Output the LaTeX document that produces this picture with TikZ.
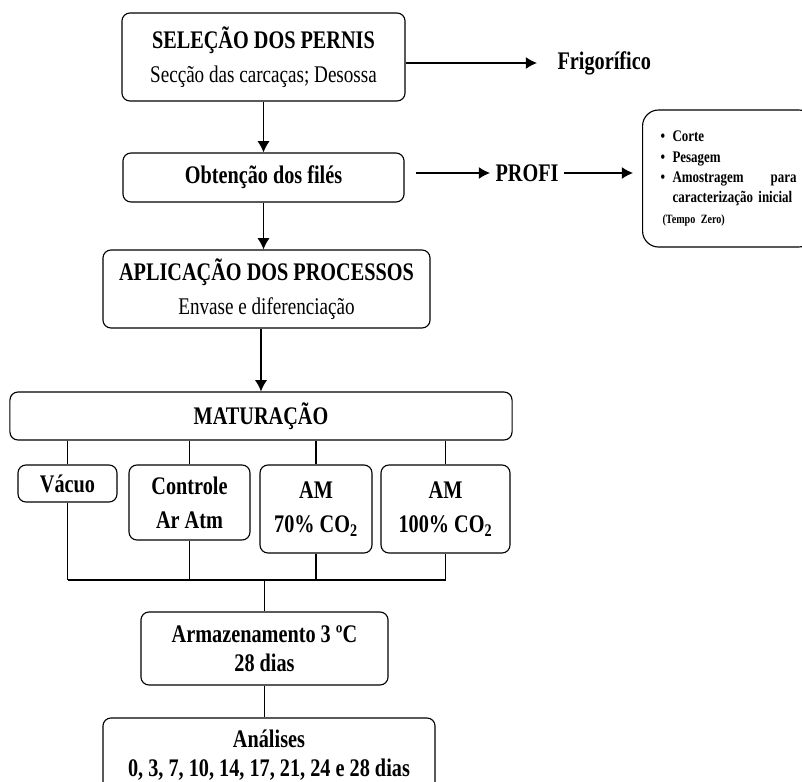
\documentclass[tikz,border=0pt]{standalone}
\usepackage{fontspec}
\setmainfont{Liberation Serif}[FakeStretch=0.8]
\usetikzlibrary{arrows.meta,positioning}
\newcommand{\subText}{\fontsize{17}{24}\selectfont\mdseries}
\tikzset{%
  >={Latex[width=3mm,length=2.8mm]},
  % Specifications for style of nodes:
       base/.style = {rectangle, rounded corners=0.2cm, draw=black,
                      line width=0.8pt, inner sep=0pt, text centered,
                      align=center},
   mainStep/.style = {base, font=\fontsize{18}{24}\selectfont\bfseries},
   lastStep/.style = {base, font=\fontsize{18}{21}\selectfont\bfseries},
   noteBox/.style  = {base, rounded corners=0.4cm, align=left,
                      inner xsep=0.45cm, text width=3.4cm,
                      font=\fontsize{11.5}{14.5}\selectfont\bfseries},
  freeLabel/.style = {inner sep=0pt, font=\fontsize{18}{24}\selectfont\bfseries},
}

\begin{document}
\begin{tikzpicture}[x=0.025cm, y=-0.025cm, line width=0.8pt]
\clip (0,0) rectangle (802,782);

\node (SP)    [mainStep, minimum width=7.075cm, minimum height=2.2cm]
              at (263.5,57) {SELEÇÃO DOS PERNIS\\ {\subText Secção das carcaças; Desossa}};

\node (OF)    [mainStep, minimum width=7.025cm, minimum height=1.225cm]
              at (263.5,177.5) {Obtenção dos filés};

\node (AP)    [mainStep, minimum width=8.175cm, minimum height=1.95cm]
              at (266.5,289) {APLICAÇÃO DOS PROCESSOS\\ {\subText Envase e diferenciação}};

\node (MAT)   [mainStep, minimum width=12.55cm, minimum height=1.2cm]
              at (261,416) {MATURAÇÃO};

\node (VAC)   [mainStep, minimum width=2.475cm, minimum height=0.925cm]
              at (67.5,483.5) {Vácuo};

\node (CAA)   [mainStep, minimum width=3.025cm, minimum height=1.875cm]
              at (189.5,502.5) {Controle\\ Ar Atm};

\node (AM70)  [mainStep, minimum width=2.8cm, minimum height=2.2cm]
              at (316,509) {AM\\ 70\% CO\textsubscript{2}};

\node (AM100) [mainStep, minimum width=3.225cm, minimum height=2.2cm]
              at (445.5,509) {AM\\ 100\% CO\textsubscript{2}};

\node (ARM)   [lastStep, minimum width=6.175cm, minimum height=1.825cm]
              at (264.5,648.5) {Armazenamento 3 ºC\\ 28 dias};

\node (AN)    [lastStep, minimum width=8.3cm, minimum height=1.85cm]
              at (269,755) {Análises\\ 0, 3, 7, 10, 14, 17, 21, 24 e 28 dias};

\node (FRIG)  [freeLabel, anchor=west] at (557,63) {Frigorífico};

\node (PROFI) [freeLabel, anchor=west] at (495,173) {PROFI};

\node (PC)    [noteBox, minimum height=3.425cm, anchor=west] at (642,178.5)
  {\makebox[0.3cm][l]{\textbullet}Corte\\
   \makebox[0.3cm][l]{\textbullet}Pesagem\\
   \makebox[0.3cm][l]{\textbullet}Amostragem\hfill para\\
   \hspace*{0.3cm}\mbox{caracterização inicial}\\
   {\fontsize{9}{12}\selectfont\hspace*{0.05cm}(Tempo Zero)}};

\draw[->]             (SP) -- (OF);
\draw[->]             (OF.south) -- (OF.south |- AP.north);
\draw[->]             (MAT.north |- AP.south) -- (MAT.north);
\draw[->, shorten >=0.5cm] (SP.east |- FRIG.west) -- (FRIG.west);
\draw[->, shorten <=0.275cm, shorten >=0.125cm] (OF.east |- PROFI.west) -- (PROFI.west);
\draw[->, shorten <=0.125cm, shorten >=0.225cm] (PROFI.east) -- (PC.west |- PROFI.east);

\foreach \b in {VAC,CAA,AM70,AM100}
  \draw (\b.north |- MAT.south) -- (\b.north);

\coordinate (J) at (264.5,580);
\foreach \b in {VAC,CAA,AM70,AM100}
  \draw (\b.south) -- (\b.south |- J);
\draw (VAC.south |- J) -- (AM100.south |- J);
\draw (J) -- (ARM);
\draw (ARM.south) -- (ARM.south |- AN.north);
  \end{tikzpicture}
\end{document}
